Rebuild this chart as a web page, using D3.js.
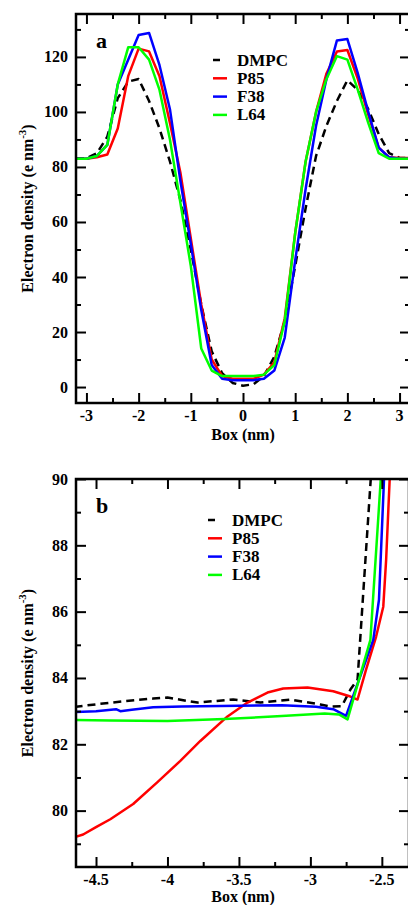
<html>
<head>
<script src="https://d3js.org/d3.v7.min.js"></script>
<style>
  body { margin: 0; background: #fff; }
</style>
</head>
<body>
<svg id="chart" width="408" height="905" font-family="'Liberation Serif', 'Times New Roman', Times, serif" font-weight="bold"></svg>
<script>
// panel a: box coordinate (nm) and electron density for each system
var boxA = [-3.2,-3.0,-2.8,-2.6,-2.4,-2.2,-2.0,-1.8,-1.6,-1.4,-1.2,-1.0,-0.8,-0.6,-0.4,-0.2,0,
            0.2,0.4,0.6,0.8,1.0,1.2,1.4,1.6,1.8,2.0,2.2,2.4,2.6,2.8,3.0,3.2];
var dmpcA = [83.2,83.2,85,91,105,111,112,104,94,82,68,50,30,13,5,1.5,0.5,
             1,4,11,24,44,65,84,95,104,111.5,108,101,92,85,83.3,83.2];
var p85A  = [83,83,83.5,84.5,94,113,123,122,113,96,78,54,30,10,4,3,3,
             3,4.5,9,25,56,82,100,114,122,122.5,112,99,87,83.5,83.3,83.3];
var f38A  = [83,83,84,88,110,119,128,128.7,117,101,75,52,28,8,3,2.5,2.5,
             2.5,3,6,18,46,72,95,112,126,126.5,114,100,87,83.5,83,83];
var l64A  = [83,83,84,88,110,123.5,123.5,119,108,90,67,44,14,6,4,4,4,
             4,4.5,8,24,56,82,100,112,120.3,119,108,96,85,83,83,83];

// panel b: [box, density] pairs near the left edge
var dmpcB = [[-4.65,83.13],[-4.47,83.22],[-4.3,83.3],[-4.1,83.38],[-4.0,83.41],[-3.85,83.3],[-3.79,83.26],
             [-3.54,83.35],[-3.35,83.26],[-3.14,83.35],[-2.93,83.2],[-2.86,83.14],[-2.78,83.15],
             [-2.72,83.65],[-2.67,83.95],[-2.57,90.5]];
var p85B  = [[-4.65,79.2],[-4.59,79.28],[-4.5,79.5],[-4.4,79.74],[-4.24,80.2],[-4.07,80.86],[-3.91,81.5],
             [-3.77,82.1],[-3.58,82.84],[-3.44,83.26],[-3.3,83.56],[-3.19,83.68],[-3.02,83.71],
             [-2.84,83.6],[-2.72,83.44],[-2.67,83.35],[-2.61,84.26],[-2.54,85.25],[-2.49,86.15],
             [-2.47,87.56],[-2.44,90.5]];
var f38B  = [[-4.65,82.97],[-4.5,83.0],[-4.36,83.06],[-4.33,83.0],[-4.25,83.04],[-4.1,83.12],[-3.9,83.14],
             [-3.5,83.16],[-3.2,83.18],[-2.96,83.13],[-2.84,83.06],[-2.75,82.86],[-2.56,85.15],
             [-2.52,86.36],[-2.48,90.5]];
var l64B  = [[-4.65,82.73],[-4.4,82.72],[-4.0,82.7],[-3.6,82.76],[-3.2,82.85],[-2.9,82.93],[-2.8,82.9],
             [-2.74,82.75],[-2.58,85.15],[-2.5,90.5]];

var names  = ["DMPC", "P85", "F38", "L64"];
var colors = ["#000000", "#ff0000", "#0000ff", "#00ff00"];

var svg = d3.select("#chart");

function panel(cfg) {
    var x = d3.scaleLinear().domain(cfg.xd).range([cfg.left, cfg.right]);
    var y = d3.scaleLinear().domain(cfg.yd).range([cfg.bottom, cfg.top]);
    var g = svg.append("g");

    // clip
    var cid = "clip" + cfg.label;
    g.append("clipPath").attr("id", cid).append("rect")
        .attr("x", cfg.left).attr("y", cfg.top)
        .attr("width", cfg.right - cfg.left).attr("height", cfg.bottom - cfg.top);

    var line = d3.line().x(function(d) { return x(d[0]); }).y(function(d) { return y(d[1]); });
    cfg.series.forEach(function(s, i) {
        g.append("path")
            .attr("clip-path", "url(#" + cid + ")")
            .attr("d", line(s))
            .attr("fill", "none")
            .attr("stroke", colors[i])
            .attr("stroke-width", 2.5)
            .attr("stroke-linejoin", "round")
            .attr("stroke-dasharray", i == 0 ? "8,5" : null);
    });

    // frame with inward ticks on all sides
    var bAx = d3.axisTop(x).tickValues(cfg.xmaj).tickSize(10).tickFormat("");
    var bMin = d3.axisTop(x).tickValues(cfg.xmin).tickSize(5).tickFormat("");
    var tAx = d3.axisBottom(x).tickValues(cfg.xmaj).tickSize(10).tickFormat("");
    var tMin = d3.axisBottom(x).tickValues(cfg.xmin).tickSize(5).tickFormat("");
    var lAx = d3.axisRight(y).tickValues(cfg.ymaj).tickSize(10).tickFormat("");
    var lMin = d3.axisRight(y).tickValues(cfg.ymin).tickSize(5).tickFormat("");
    var rAx = d3.axisLeft(y).tickValues(cfg.ymaj).tickSize(10).tickFormat("");
    var rMin = d3.axisLeft(y).tickValues(cfg.ymin).tickSize(5).tickFormat("");
    [[bAx, "translate(0," + cfg.bottom + ")"], [bMin, "translate(0," + cfg.bottom + ")"],
     [tAx, "translate(0," + cfg.top + ")"], [tMin, "translate(0," + cfg.top + ")"],
     [lAx, "translate(" + cfg.left + ",0)"], [lMin, "translate(" + cfg.left + ",0)"],
     [rAx, "translate(" + cfg.right + ",0)"], [rMin, "translate(" + cfg.right + ",0)"]]
    .forEach(function(a) {
        var ax = g.append("g").attr("transform", a[1]).call(a[0]);
        ax.selectAll("line").attr("stroke", "#000").attr("stroke-width", 2);
        ax.select(".domain").remove();
    });
    g.append("rect")
        .attr("x", cfg.left).attr("y", cfg.top)
        .attr("width", cfg.right - cfg.left).attr("height", cfg.bottom - cfg.top)
        .attr("fill", "none").attr("stroke", "#000").attr("stroke-width", 2.5);

    // tick labels
    g.selectAll(".xl").data(cfg.xmaj).enter().append("text")
        .attr("x", function(d) { return x(d); })
        .attr("y", cfg.bottom + 18)
        .attr("text-anchor", "middle")
        .attr("font-size", 16)
        .text(function(d) { return String(d).replace("\u2212", "-"); });
    g.selectAll(".yl").data(cfg.ymaj).enter().append("text")
        .attr("x", cfg.left - 8)
        .attr("y", function(d) { return y(d) + 5.5; })
        .attr("text-anchor", "end")
        .attr("font-size", 16)
        .text(function(d) { return d; });

    // axis titles
    g.append("text")
        .attr("x", (cfg.left + 410) / 2)
        .attr("y", Math.min(cfg.bottom + 37, 902))
        .attr("text-anchor", "middle")
        .attr("font-size", 16)
        .text("Box (nm)");
    var yt = g.append("text")
        .attr("transform", "translate(33," + ((cfg.top + cfg.bottom) / 2) + ") rotate(-90)")
        .attr("text-anchor", "middle")
        .attr("font-size", 16);
    yt.append("tspan").text("Electron density (e nm");
    yt.append("tspan").attr("dy", -7).attr("font-size", 11).text("-3");
    yt.append("tspan").attr("dy", 7).text(")");

    // panel letter
    g.append("text")
        .attr("x", cfg.left + 20).attr("y", cfg.top + 34)
        .attr("font-size", 22)
        .text(cfg.label);

    // legend
    names.forEach(function(n, i) {
        var cy = cfg.legY + i * 18.3;
        g.append("line")
            .attr("x1", cfg.legX).attr("x2", cfg.legX + (i == 0 ? 7 : 14))
            .attr("y1", cy).attr("y2", cy)
            .attr("stroke", colors[i]).attr("stroke-width", 2.5);
        g.append("text")
            .attr("x", cfg.legX + 24).attr("y", cy + 5.5)
            .attr("font-size", 17)
            .text(n);
    });
}

function zipA(vals) { return boxA.map(function(b, i) { return [b, vals[i]]; }); }

panel({
    label: "a", left: 76, right: 410, top: 14, bottom: 403,
    xd: [-3.2, 3.2], yd: [-5.8, 135.6],
    xmaj: [-3, -2, -1, 0, 1, 2, 3], xmin: [-2.5, -1.5, -0.5, 0.5, 1.5, 2.5],
    ymaj: [0, 20, 40, 60, 80, 100, 120], ymin: [10, 30, 50, 70, 90, 110, 130],
    series: [zipA(dmpcA), zipA(p85A), zipA(f38A), zipA(l64A)],
    legX: 213, legY: 60
});

panel({
    label: "b", left: 76, right: 409, top: 479, bottom: 867,
    xd: [-4.64, -2.31], yd: [78.3, 90],
    xmaj: [-4.5, -4, -3.5, -3, -2.5], xmin: [-4.25, -3.75, -3.25, -2.75],
    ymaj: [80, 82, 84, 86, 88, 90], ymin: [79, 81, 83, 85, 87, 89],
    series: [dmpcB, p85B, f38B, l64B],
    legX: 208, legY: 520
});
</script>
</body>
</html>
